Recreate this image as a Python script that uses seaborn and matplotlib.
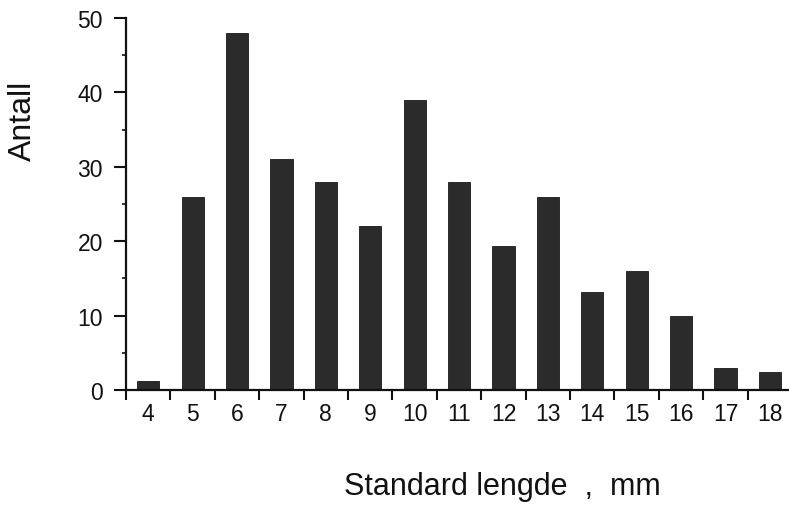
import matplotlib
matplotlib.use("Agg")
import matplotlib.pyplot as plt
import seaborn as sns
import pandas as pd
import numpy as np
from matplotlib.ticker import MultipleLocator, FixedLocator

# Data
lengths = [4, 5, 6, 7, 8, 9, 10, 11, 12, 13, 14, 15, 16, 17, 18]
counts = [1.2, 26, 48, 31, 28, 22, 39, 28, 19.3, 26, 13.2, 16, 10, 3, 2.4]
y_ticks = [0, 10, 20, 30, 40, 50]

sns.set_theme(style="ticks")
plt.rcParams['font.family'] = ['Liberation Sans', 'DejaVu Sans']

df = pd.DataFrame({"length": lengths, "count": counts})

fig = plt.figure(figsize=(7.89, 5.06), dpi=100)
ax = fig.add_axes([126/789, 1 - 391/506, 663/789, (391 - 19)/506])

sns.barplot(data=df, x="length", y="count", color="#2b2b2b", saturation=1,
            width=0.5, ax=ax, edgecolor="#1a1a1a", linewidth=0.6)

ax.set_xlim(-0.5, 14.43)
ax.set_ylim(0, 50)

sns.despine(ax=ax)
for s in ["left", "bottom"]:
    ax.spines[s].set_linewidth(1.6)
    ax.spines[s].set_color("#111111")

# x: labels at centres, tick marks between categories
ax.set_xticks(range(len(lengths)))
ax.set_xticklabels([str(v) for v in lengths])
ax.xaxis.set_minor_locator(FixedLocator(np.arange(-0.5, 14.0, 1.0)))
ax.tick_params(axis="x", which="major", length=0, pad=9, labelsize=16.5, colors="#111111")
ax.tick_params(axis="x", which="minor", length=7, width=1.5, direction="out", color="#111111")

# y
ax.set_yticks(y_ticks)
ax.yaxis.set_minor_locator(MultipleLocator(5))
ax.tick_params(axis="y", which="major", length=9, width=1.5, pad=7.5, labelsize=16.5, colors="#111111")
ax.tick_params(axis="y", which="minor", length=3, width=1.2, color="#111111")

ax.set_ylabel("Antall", fontsize=23, color="#111111")
ax.yaxis.set_label_coords(-0.133, 0.726)
ax.set_xlabel("Standard lengde  ,  mm", fontsize=22, color="#111111", va="baseline")
ax.xaxis.set_label_coords(0.567, -0.2796)

fig.savefig("out.png", dpi=100)
